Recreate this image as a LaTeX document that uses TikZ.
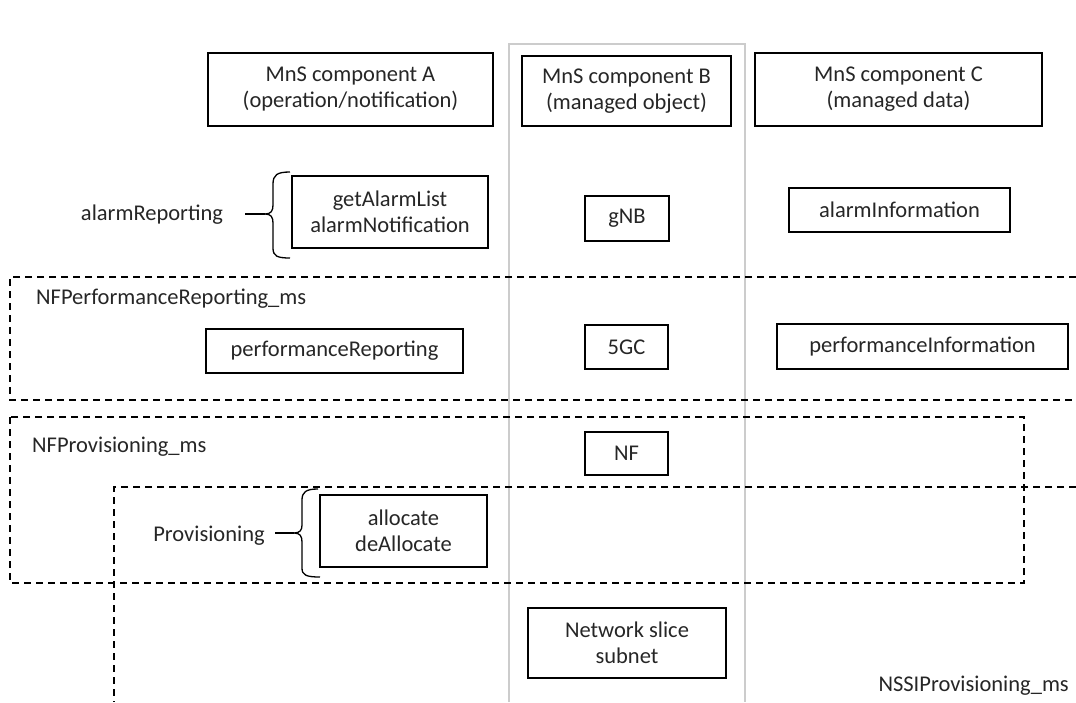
\documentclass[tikz,border=0pt]{standalone}
\usepackage{fontspec}
\setmainfont{Carlito}
\begin{document}
\begin{tikzpicture}[x=1pt,y=-1pt,
  font=\fontsize{22.5}{26}\selectfont,
  box/.style={draw, line width=1.3pt, align=center, inner sep=0pt, text=black!85},
  lbl/.style={inner sep=0pt, text=black!85},
  dshline/.style={line width=1.4pt, dash pattern=on 7pt off 5pt},
  brc/.style={line width=1.3pt}]
\useasboundingbox (0,0) rectangle (1076,702);

% grey column of component B
\draw[gray!40, line width=1.6pt] (509,702) -- (509,44) -- (745,44) -- (745,702);

% dashed groups
\draw[dshline] (1076,277) -- (10,277) -- (10,400) -- (1076,400);
\draw[dshline] (10,417) rectangle (1024,583);
\draw[dshline] (1076,487) -- (114,487) -- (114,702);

% header boxes
\node[box, minimum width=285pt, minimum height=73pt] (A) at (350.5,89.5) {MnS component A\\(operation/notification)};
\node[box, minimum width=209pt, minimum height=70pt] (B) at (626.5,91) {MnS component B\\(managed object)};
\node[box, minimum width=287pt, minimum height=73pt] (C) at (898.5,89.5) {MnS component C\\(managed data)};

% alarm row
\node[lbl] (alarmlbl) at (152,215) {alarmReporting};
\node[box, minimum width=196pt, minimum height=72pt] (alarmops) at (390,212) {getAlarmList\\alarmNotification};
\node[box, minimum width=84pt, minimum height=45pt] (gnb) at (627,218.5) {gNB};
\node[box, minimum width=221pt, minimum height=44pt] (alarminfo) at (899.5,210) {alarmInformation};

% performance row
\node[lbl, anchor=west] (perflbl) at (36,299) {NFPerformanceReporting\_ms};
\node[box, minimum width=257pt, minimum height=44pt] (perfrep) at (334.5,351) {performanceReporting};
\node[box, minimum width=83pt, minimum height=44pt] (fivegc) at (626.5,347) {5GC};
\node[box, minimum width=291pt, minimum height=45pt] (perfinfo) at (922.5,346.5) {performanceInformation};

% provisioning rows
\node[lbl, anchor=west] (provlbl) at (32,447) {NFProvisioning\_ms};
\node[box, minimum width=83pt, minimum height=43pt] (nf) at (626.5,453.5) {NF};
\node[lbl] (provisioning) at (209,536) {Provisioning};
\node[box, minimum width=167pt, minimum height=72pt] (alloc) at (403.5,531) {allocate\\deAllocate};
\node[box, minimum width=198pt, minimum height=70pt] (nss) at (627,643) {Network slice\\subnet};
\node[lbl, anchor=east] (nssilbl) at (1069,686) {NSSIProvisioning\_ms};

% brace for alarmReporting
\coordinate (a1) at (290,172);
\coordinate (a2) at (290,258);
\coordinate (atip) at (265,214);
\coordinate (astart) at (245,214);
\draw[brc] (a1) .. controls (277,172) and (273,175) .. (273,184) -- (273,205)
  .. controls (273,211) and (271,214) .. (atip)
  .. controls (271,214) and (273,217) .. (273,223) -- (273,248)
  .. controls (273,256) and (277,258) .. (a2);
\draw[brc] (astart) -- (atip);

% brace for Provisioning
\coordinate (p1) at (318,489);
\coordinate (p2) at (320,577);
\coordinate (ptip) at (294,533);
\coordinate (pstart) at (275,533);
\draw[brc] (p1) .. controls (306,489) and (302,492) .. (302,500) -- (302,525)
  .. controls (302,530) and (300,533) .. (ptip)
  .. controls (300,533) and (302,536) .. (302,542) -- (302,568)
  .. controls (302,575) and (306,577) .. (p2);
\draw[brc] (pstart) -- (ptip);
\end{tikzpicture}
\end{document}
